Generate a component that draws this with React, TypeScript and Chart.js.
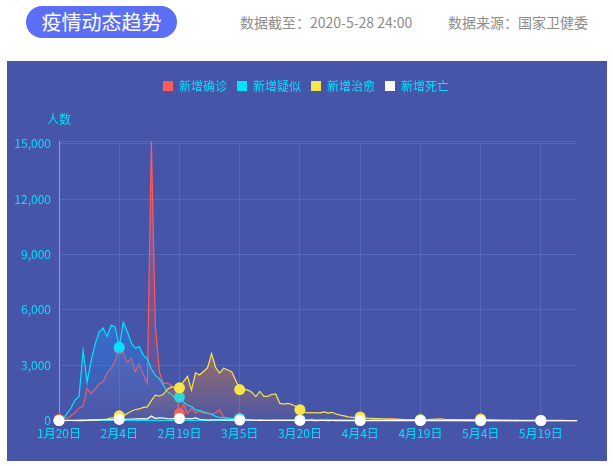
import { useEffect, useRef } from "react";
import Chart from "chart.js/auto";

// days shown on the x axis: 1月20日 .. 5月28日
const MONTHS = [1, 2, 3, 4, 5];
const MONTH_FIRST_DAY = [20, 1, 1, 1, 1];
const MONTH_LAST_DAY = [31, 29, 31, 30, 28];

const DAYS: string[] = [];
MONTHS.forEach((m, i) => {
  for (let d = MONTH_FIRST_DAY[i]; d <= MONTH_LAST_DAY[i]; d++) DAYS.push(`${m}月${d}日`);
});

const LABEL_STEP = 15;
const Y_TICKS = [0, 3000, 6000, 9000, 12000, 15000];

const SERIES_NAMES = ["新增确诊", "新增疑似", "新增治愈", "新增死亡"];
const SERIES_COLORS = ["#ff5a5a", "#00e5ff", "#f8e547", "#ffffff"];
const AREA_RGB = ["255,90,90", "30,144,255", "255,140,40", "255,255,255"];
const AREA_ALPHA = [0.55, 0.45, 0.45, 0.3];

// one line per month: Jan (from 20th), Feb, Mar, Apr, May (to 28th)
const CONFIRMED = [
  77, 149, 131, 259, 444, 688, 769, 1771, 1459, 1737, 1982, 2102,
  2590, 2829, 3235, 3887, 3694, 3143, 3399, 2656, 3062, 2478, 2015, 15152, 5090, 2641, 2009, 2048, 1886, 1749, 394, 889, 397, 648, 409, 508, 406, 433, 327, 427, 573,
  202, 125, 119, 139, 143, 99, 44, 40, 19, 24, 15, 8, 11, 20, 16, 21, 13, 34, 39, 41, 46, 39, 78, 47, 67, 55, 54, 45, 31, 48, 36,
  35, 31, 19, 30, 39, 32, 62, 63, 42, 46, 99, 108, 89, 46, 26, 27, 27, 16, 12, 11, 30, 10, 6, 12, 11, 3, 6, 22, 4, 12,
  1, 2, 3, 3, 1, 2, 2, 1, 14, 17, 1, 7, 3, 4, 6, 5, 7, 5, 6, 5, 4, 2, 3, 11, 7, 1, 3, 5,
];

const SUSPECTED = [
  0, 100, 393, 680, 1118, 1309, 3806, 2077, 3248, 4148, 4812, 5019,
  4562, 5173, 5072, 3971, 5328, 4833, 4214, 3916, 4008, 3536, 3342, 2807, 2450, 2277, 1918, 1563, 1432, 1185, 1277, 1000, 830, 760, 580, 540, 470, 400, 350, 230, 170,
  150, 130, 110, 110, 100, 90, 60, 50, 36, 31, 33, 33, 17, 39, 45, 28, 45, 21, 43, 59, 54, 58, 70, 60, 57, 61, 64, 58, 48, 51, 44,
  40, 41, 36, 35, 40, 45, 41, 57, 72, 60, 63, 58, 62, 53, 48, 44, 40, 33, 28, 27, 22, 18, 16, 13, 10, 9, 8, 7, 6, 5,
  4, 3, 3, 2, 3, 2, 2, 1, 5, 4, 2, 3, 2, 3, 2, 2, 1, 2, 3, 2, 1, 2, 2, 3, 2, 1, 2, 2,
];

const CURED = [
  0, 3, 6, 6, 3, 11, 2, 9, 43, 21, 47, 72,
  85, 147, 157, 262, 261, 387, 510, 600, 632, 716, 744, 1081, 1373, 1323, 1425, 1701, 1824, 1779, 1779, 2109, 2394, 1661, 2589, 2470, 2663, 2867, 3622, 2885, 2575,
  2837, 2742, 2652, 2189, 1681, 1678, 1661, 1535, 1297, 1578, 1318, 1318, 1427, 1430, 930, 892, 930, 870, 760, 590, 450, 420, 440, 420, 420, 470, 410, 450, 360, 300, 260,
  200, 180, 160, 200, 150, 130, 120, 110, 100, 90, 80, 80, 70, 70, 60, 60, 55, 50, 50, 45, 60, 70, 80, 90, 70, 60, 60, 50, 60, 50,
  60, 50, 60, 80, 60, 50, 40, 40, 30, 30, 30, 20, 30, 20, 20, 15, 20, 15, 10, 10, 10, 8, 10, 8, 6, 6, 5, 5,
];

const DEATHS = [
  3, 3, 8, 8, 16, 15, 24, 26, 26, 38, 43, 46,
  45, 57, 64, 65, 73, 73, 86, 89, 97, 108, 97, 254, 121, 143, 142, 105, 98, 136, 114, 118, 109, 97, 150, 71, 52, 29, 44, 47, 35,
  42, 31, 38, 31, 30, 28, 27, 22, 17, 22, 11, 7, 13, 10, 14, 13, 11, 8, 3, 7, 6, 9, 7, 4, 6, 5, 3, 5, 4, 1, 1,
  6, 4, 4, 3, 1, 1, 2, 2, 0, 1, 3, 1, 2, 1, 0, 1, 0, 0, 0, 0, 0, 0, 0, 0, 0, 0, 0, 0, 0, 0,
  0, 0, 0, 0, 0, 0, 0, 0, 0, 0, 0, 0, 0, 0, 0, 0, 0, 0, 0, 0, 0, 0, 0, 0, 0, 0, 0, 0,
];

const SERIES = [CONFIRMED, SUSPECTED, CURED, DEATHS];
const Y_MAX = Math.max(...CONFIRMED);

const CYAN = "#00e1ff";
const GRID = "#5468ba";
const FONT = '"Microsoft YaHei", "Noto Sans CJK SC", sans-serif';

function areaGradient(i: number, peak: number) {
  return (c: any) => {
    const chart = c.chart;
    const fallback = `rgba(${AREA_RGB[i]},${AREA_ALPHA[i] / 2})`;
    if (!chart.chartArea) return fallback;
    const y = chart.scales.y;
    const top = y.getPixelForValue(peak);
    const bottom = y.getPixelForValue(0);
    if (!(bottom > top)) return fallback;
    const g = chart.ctx.createLinearGradient(0, top, 0, bottom);
    g.addColorStop(0, `rgba(${AREA_RGB[i]},${AREA_ALPHA[i]})`);
    g.addColorStop(1, `rgba(${AREA_RGB[i]},0.03)`);
    return g;
  };
}

// push the plot down below the legend, and nudge the legend a bit right
const legendGap = {
  id: "legendGap",
  beforeInit(chart: any) {
    const legend = chart.legend;
    if (!legend) return;
    const fit = legend.fit;
    legend.fit = function () {
      fit.call(this);
      this.height += 39;
    };
  },
  afterLayout(chart: any) {
    const legend = chart.legend;
    if (!legend) return;
    legend.left += 14;
    legend.right += 14;
  },
};

// "人数" above the y axis
const yUnit = {
  id: "yUnit",
  afterDraw(chart: any) {
    const { ctx, chartArea } = chart;
    ctx.save();
    ctx.font = `12px ${FONT}`;
    ctx.fillStyle = CYAN;
    ctx.textAlign = "center";
    ctx.textBaseline = "middle";
    ctx.fillText("人数", chartArea.left, chartArea.top - 22);
    ctx.restore();
  },
};

function TrendChart() {
  const canvasRef = useRef<HTMLCanvasElement | null>(null);

  useEffect(() => {
    const canvas = canvasRef.current;
    if (!canvas) return;

    const chart = new Chart(canvas, {
      type: "line",
      data: {
        labels: DAYS,
        datasets: SERIES.map((data, i) => ({
          label: SERIES_NAMES[i],
          data,
          order: SERIES.length - i,
          borderColor: SERIES_COLORS[i],
          borderWidth: 1.2,
          backgroundColor: areaGradient(i, Math.max(...data)),
          fill: "origin",
          tension: 0,
          clip: false as any,
          pointRadius: (c: any) => (c.index % LABEL_STEP === 0 ? 5.5 : 0),
          pointBackgroundColor: SERIES_COLORS[i],
          pointBorderColor: SERIES_COLORS[i],
          pointBorderWidth: 0,
        })),
      },
      options: {
        responsive: true,
        maintainAspectRatio: false,
        animation: false,
        events: [],
        layout: { padding: { top: 9, left: 0, right: 30, bottom: 14 } },
        plugins: {
          tooltip: { enabled: false },
          legend: {
            position: "top",
            labels: {
              color: CYAN,
              font: { size: 12, family: FONT },
              boxWidth: 10,
              boxHeight: 10,
              padding: 10,
              generateLabels: (c: any) =>
                c.data.datasets.map((ds: any, i: number) => ({
                  text: ds.label,
                  fillStyle: SERIES_COLORS[i],
                  strokeStyle: SERIES_COLORS[i],
                  lineWidth: 0,
                  hidden: false,
                  datasetIndex: i,
                  fontColor: CYAN,
                })),
            },
          },
        },
        scales: {
          x: {
            type: "category",
            offset: false,
            border: { color: CYAN, width: 1 },
            grid: { color: GRID, drawTicks: false },
            ticks: {
              color: CYAN,
              font: { size: 12, family: FONT },
              padding: 6,
              autoSkip: false,
              maxRotation: 0,
            },
            afterBuildTicks: (s: any) => {
              s.ticks = s.ticks.filter((t: any) => t.value % LABEL_STEP === 0);
            },
          },
          y: {
            min: 0,
            max: Y_MAX,
            border: { color: CYAN, width: 1 },
            grid: { color: GRID, drawTicks: false },
            ticks: {
              color: CYAN,
              font: { size: 12, family: FONT },
              padding: 8,
              callback: (v: any) => (Y_TICKS.includes(v) ? Number(v).toLocaleString("en-US") : ""),
            },
            afterBuildTicks: (s: any) => {
              s.ticks = [...Y_TICKS, Y_MAX].map((value) => ({ value }));
            },
            afterFit: (s: any) => {
              s.width = 52;
            },
          },
        },
      },
      plugins: [legendGap, yUnit],
    });

    return () => chart.destroy();
  }, []);

  return (
    <div style={{ position: "absolute", left: 7, top: 61, width: 600, height: 400, background: "#4755a8" }}>
      <canvas ref={canvasRef} />
    </div>
  );
}

export default function App() {
  return (
    <div style={{ position: "fixed", left: 0, top: 0, width: 613, height: 466, background: "#fff", fontFamily: FONT }}>
      <div
        style={{
          position: "absolute",
          left: 26,
          top: 6,
          width: 151,
          height: 32,
          borderRadius: 16,
          background: "#5b6ff5",
          color: "#fff",
          fontSize: 20,
          lineHeight: "32px",
          textAlign: "center",
        }}
      >
        疫情动态趋势
      </div>
      <div style={{ position: "absolute", left: 240, top: 13, fontSize: 14, lineHeight: "18px", color: "#8c8c8c" }}>
        数据截至：2020-5-28 24:00
      </div>
      <div style={{ position: "absolute", left: 448, top: 13, fontSize: 14, lineHeight: "18px", color: "#8c8c8c" }}>
        数据来源：国家卫健委
      </div>
      <TrendChart />
    </div>
  );
}
